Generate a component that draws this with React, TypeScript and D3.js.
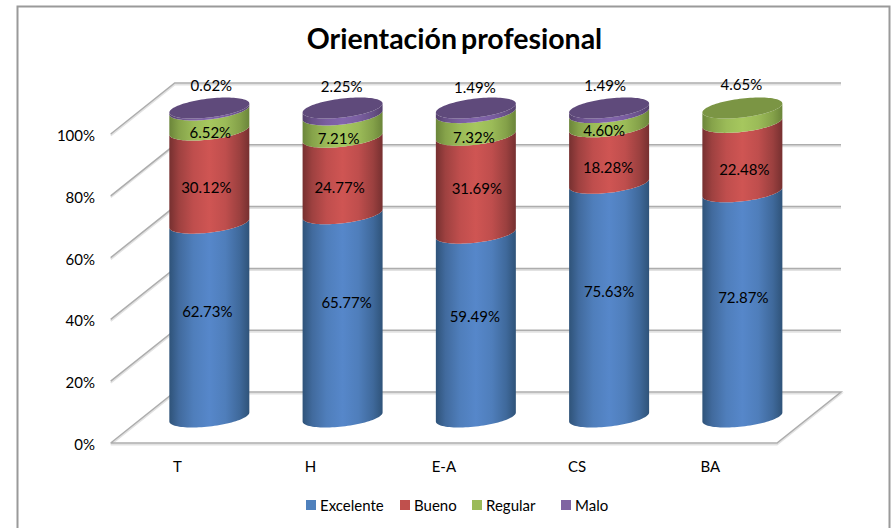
// App.tsx
import React, { useEffect, useRef } from "react";
import * as d3 from "d3";

const categories = ["T", "H", "E-A", "CS", "BA"];
const seriesNames = ["Excelente", "Bueno", "Regular", "Malo"];
const excelente = [62.73, 65.77, 59.49, 75.63, 72.87];
const bueno = [30.12, 24.77, 31.69, 18.28, 22.48];
const regular = [6.52, 7.21, 7.32, 4.6, 4.65];
const malo = [0.62, 2.25, 1.49, 1.49, 0];
const seriesValues = [excelente, bueno, regular, malo];
const yTicks = [0, 20, 40, 60, 80, 100];

// colours per series: side centre, side edge, cap, legend
const centerColors = ["#5687CA", "#CF5553", "#A6C75E", "#8265AC"];
const edgeColors = ["#2F5379", "#763030", "#6B853A", "#54406C"];
const capColors = ["#4A7EBB", "#B04744", "#7B9544", "#5F4A7B"];
const legendColors = ["#4F81BD", "#C0504D", "#9BBB59", "#8064A2"];

// hand placed labels: offset [dx, dy] from the middle of each segment
const labelNudge = [
  [[-2, -9], [4, -13], [-1, -9], [0, -9], [1, -7]],
  [[-3, 11], [-3, 12], [1, 4], [-1, 12], [2, 12]],
  [[1, 12], [-4, 12], [-2, 14], [-5, 11], [-1, -31]],
  [[2, -23], [-1, -25], [-1, -23], [-4, -25], [0, 0]],
];

const legendSpots = [306, 400, 472, 561];

const WIDTH = 892;
const HEIGHT = 528;
const FONT = "Lato, 'Open Sans', sans-serif";
const TEXT_SIZE = 15;

const App = () => {
  const ref = useRef<SVGSVGElement>(null);

  useEffect(() => {
    const svg = d3.select(ref.current);
    svg.selectAll("*").remove();

    // 3D box: front plane plus a depth offset for the back wall
    const depthX = 64;
    const depthY = -51;
    const x = d3.scaleBand().domain(categories).range([110.7, 777]);
    const y = d3.scaleLinear().domain([0, 100]).range([443, 134]);

    // Gradients for the cylinder sides
    const defs = svg.append("defs");
    seriesNames.forEach((name, i) => {
      const grad = defs
        .append("linearGradient")
        .attr("id", `side-${i}`)
        .attr("x1", 0)
        .attr("x2", 1)
        .attr("y1", 0)
        .attr("y2", 0);
      const mix = d3.interpolateRgb(edgeColors[i], centerColors[i]);
      [[0, 0], [0.12, 0.45], [0.3, 0.82], [0.5, 1], [0.7, 0.82], [0.88, 0.42], [1, 0]].forEach(([o, m]) => {
        grad.append("stop").attr("offset", o).attr("stop-color", mix(m));
      });
    });

    // Chart frame, open at the bottom
    svg
      .append("path")
      .attr("d", `M17.5,${HEIGHT} V6.5 H889.5 V${HEIGHT}`)
      .attr("fill", "none")
      .attr("stroke", "#9A9A9A")
      .attr("stroke-width", 2);

    svg
      .append("text")
      .attr("x", 454.5)
      .attr("y", 49)
      .attr("text-anchor", "middle")
      .attr("font-family", FONT)
      .attr("font-size", 28.5)
      .attr("font-weight", 700)
      .attr("word-spacing", -3)
      .attr("fill", "#000")
      .text("Orientación profesional");

    // Wall and floor lines with a soft shadow under them
    const grid = svg.append("g").attr("fill", "none");
    const x0 = x.range()[0];
    const x1 = x.range()[1];
    const gridPath = t =>
      `M${x0},${y(t)} L${x0 + depthX},${y(t) + depthY} H${x1 + depthX}` +
      (t === 0 ? ` L${x1},${y(t)} H${x0}` : "");
    [
      { stroke: "#E2E2E2", width: 2, dy: 1.5 },
      { stroke: "#ADADAD", width: 1.5, dy: 0 },
    ].forEach(s => {
      grid
        .selectAll(null)
        .data(yTicks)
        .enter()
        .append("path")
        .attr("d", gridPath)
        .attr("transform", `translate(0,${s.dy})`)
        .attr("stroke", s.stroke)
        .attr("stroke-width", s.width);
    });

    // Y tick labels
    svg
      .selectAll(null)
      .data(yTicks)
      .enter()
      .append("text")
      .attr("x", 95)
      .attr("y", d => y(d) + 7)
      .attr("text-anchor", "end")
      .attr("font-family", FONT)
      .attr("font-size", TEXT_SIZE)
      .attr("fill", "#000")
      .text(d => `${d}%`);

    // X category labels
    svg
      .selectAll(null)
      .data(categories)
      .enter()
      .append("text")
      .attr("x", d => x(d) + x.bandwidth() / 2)
      .attr("y", 472)
      .attr("text-anchor", "middle")
      .attr("font-family", FONT)
      .attr("font-size", TEXT_SIZE)
      .attr("fill", "#000")
      .text(d => d);

    // Cylinders: tilted ellipses, sides are built from their front arcs
    const rx = 40;
    const ry = 9.5;
    const tilt = 4.5;
    const baseOffset = -26;
    const cylX = c => x(c) + x.bandwidth() / 2 + depthX / 2;
    const cylY = v => y(v) + baseOffset;
    const ellipsePoint = (c, v, t) => [
      cylX(c) + rx * Math.cos(t),
      cylY(v) + ry * Math.sin(t) - tilt * Math.cos(t),
    ];
    const line = d3.line();
    const frontAngles = d3.range(0, 49).map(i => (i / 48) * Math.PI);
    const backAngles = d3.range(0, 49).map(i => Math.PI + (i / 48) * Math.PI);

    categories.forEach((cat, ci) => {
      const g = svg.append("g");
      let cum = 0;
      let lastSeries = 0;
      seriesValues.forEach((values, si) => {
        const v = values[ci];
        if (!v) return;
        const lower = frontAngles.map(t => ellipsePoint(cat, cum, t));
        const upper = frontAngles.map(t => ellipsePoint(cat, cum + v, t)).reverse();
        g.append("path")
          .attr("d", line([...lower, ...upper]) + "Z")
          .attr("fill", `url(#side-${si})`);
        cum += v;
        lastSeries = si;
      });
      // top cap in a darker tone of the last series
      const cap = [...frontAngles, ...backAngles].map(t => ellipsePoint(cat, cum, t));
      g.append("path")
        .attr("d", line(cap) + "Z")
        .attr("fill", capColors[lastSeries]);
    });

    // Value labels go over every cylinder
    categories.forEach((cat, ci) => {
      let cum = 0;
      seriesValues.forEach((values, si) => {
        const v = values[ci];
        if (!v) return;
        const [dx, dy] = labelNudge[si][ci];
        svg
          .append("text")
          .attr("x", cylX(cat) + dx)
          .attr("y", cylY(cum + v / 2) + dy + 5.5)
          .attr("text-anchor", "middle")
          .attr("font-family", FONT)
          .attr("font-size", TEXT_SIZE)
          .attr("fill", "#000")
          .text(`${v.toFixed(2)}%`);
        cum += v;
      });
    });

    // Legend
    const legend = svg
      .selectAll(null)
      .data(seriesNames)
      .enter()
      .append("g")
      .attr("transform", (d, i) => `translate(${legendSpots[i]},500)`);
    legend
      .append("rect")
      .attr("width", 10)
      .attr("height", 10)
      .attr("fill", (d, i) => legendColors[i]);
    legend
      .append("text")
      .attr("x", 14)
      .attr("y", 11)
      .attr("font-family", FONT)
      .attr("font-size", TEXT_SIZE)
      .attr("fill", "#000")
      .text(d => d);
  }, []);

  return (
    <svg
      ref={ref}
      width={WIDTH}
      height={HEIGHT}
      style={{ position: "absolute", left: 0, top: 0, background: "#fff" }}
    />
  );
};

export default App;
